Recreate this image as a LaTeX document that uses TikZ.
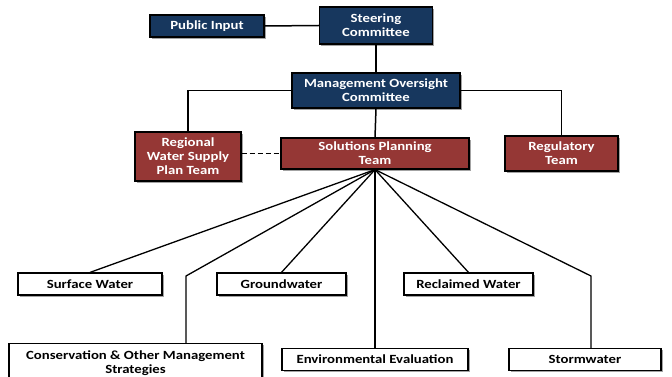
\documentclass[tikz,border=0pt]{standalone}
\usepackage{fontspec}
\setmainfont{Carlito}[FakeStretch=1.18]
\usetikzlibrary{shadows}
\definecolor{navy}{RGB}{23,55,94}
\definecolor{brick}{RGB}{149,55,53}
\begin{document}
\begin{tikzpicture}[x=1pt,y=-1pt,
  basebox/.style={draw=black, line width=1.2pt, inner sep=1pt, align=center,
    font=\fontsize{12.5}{14}\selectfont\bfseries,
    drop shadow={shadow xshift=1.8pt, shadow yshift=-1.8pt, fill=black!45, opacity=0.8}},
  navybox/.style={basebox, fill=navy, text=white},
  redbox/.style={basebox, fill=brick, text=white},
  whitebox/.style={basebox, fill=white, text=black},
  conn/.style={line width=1.5pt, draw=black},
]
\useasboundingbox (0,0) rectangle (672,377);
% top level
\node[navybox, minimum width=114pt, minimum height=22pt] (pub) at (207,26) {Public Input};
\node[navybox, minimum width=113pt, minimum height=37pt] (steer) at (376,25.5) {Steering\\Committee};
\node[navybox, minimum width=168pt, minimum height=35pt] (mgmt) at (376,90.5) {Management Oversight\\Committee};
% second level
\node[redbox, minimum width=106pt, minimum height=49pt] (reg) at (188,156.5) {Regional\\Water Supply\\Plan Team};
\node[redbox, minimum width=188pt, minimum height=31pt] (sol) at (375,153.5) {Solutions Planning\\Team};
\node[redbox, minimum width=113pt, minimum height=35pt] (regu) at (561.5,153.5) {Regulatory\\Team};
% bottom level
\node[whitebox, minimum width=144pt, minimum height=22pt] (surf) at (90,284) {Surface Water};
\node[whitebox, minimum width=129pt, minimum height=22pt] (gw) at (281.5,284) {Groundwater};
\node[whitebox, minimum width=129pt, minimum height=22pt] (recl) at (468.5,284) {Reclaimed Water};
\node[whitebox, minimum width=253pt, minimum height=40pt, anchor=north] (cons) at (135.5,343) {Conservation \& Other Management\\Strategies};
\node[whitebox, minimum width=186pt, minimum height=22pt] (env) at (375,359.5) {Environmental Evaluation};
\node[whitebox, minimum width=152pt, minimum height=22pt] (storm) at (585,359.5) {Stormwater};
% bends
\coordinate (cbend) at (186,276);
\coordinate (sbend) at (591,276);
% connectors
\draw[conn] (pub.east) -- (steer.west);
\draw[conn] (steer.south) -- (mgmt.north);
\draw[conn] (mgmt.west) -| (reg.north);
\draw[conn] (mgmt.east) -| (regu.north);
\draw[conn] (mgmt.south) -- (sol.north);
\draw[conn, dashed, dash pattern=on 5pt off 3pt] (reg.east |- sol.west) -- (sol.west);
\draw[conn, line width=1.3pt] (sol.south) -- (surf.north);
\draw[conn, line width=1.3pt] (sol.south) -- (cbend) -- (cons.north -| cbend);
\draw[conn, line width=1.3pt] (sol.south) -- (gw.north);
\draw[conn, line width=1.3pt] (sol.south) -- (env.north);
\draw[conn, line width=1.3pt] (sol.south) -- (recl.north);
\draw[conn, line width=1.3pt] (sol.south) -- (sbend) -- (storm.north -| sbend);
\end{tikzpicture}
\end{document}
